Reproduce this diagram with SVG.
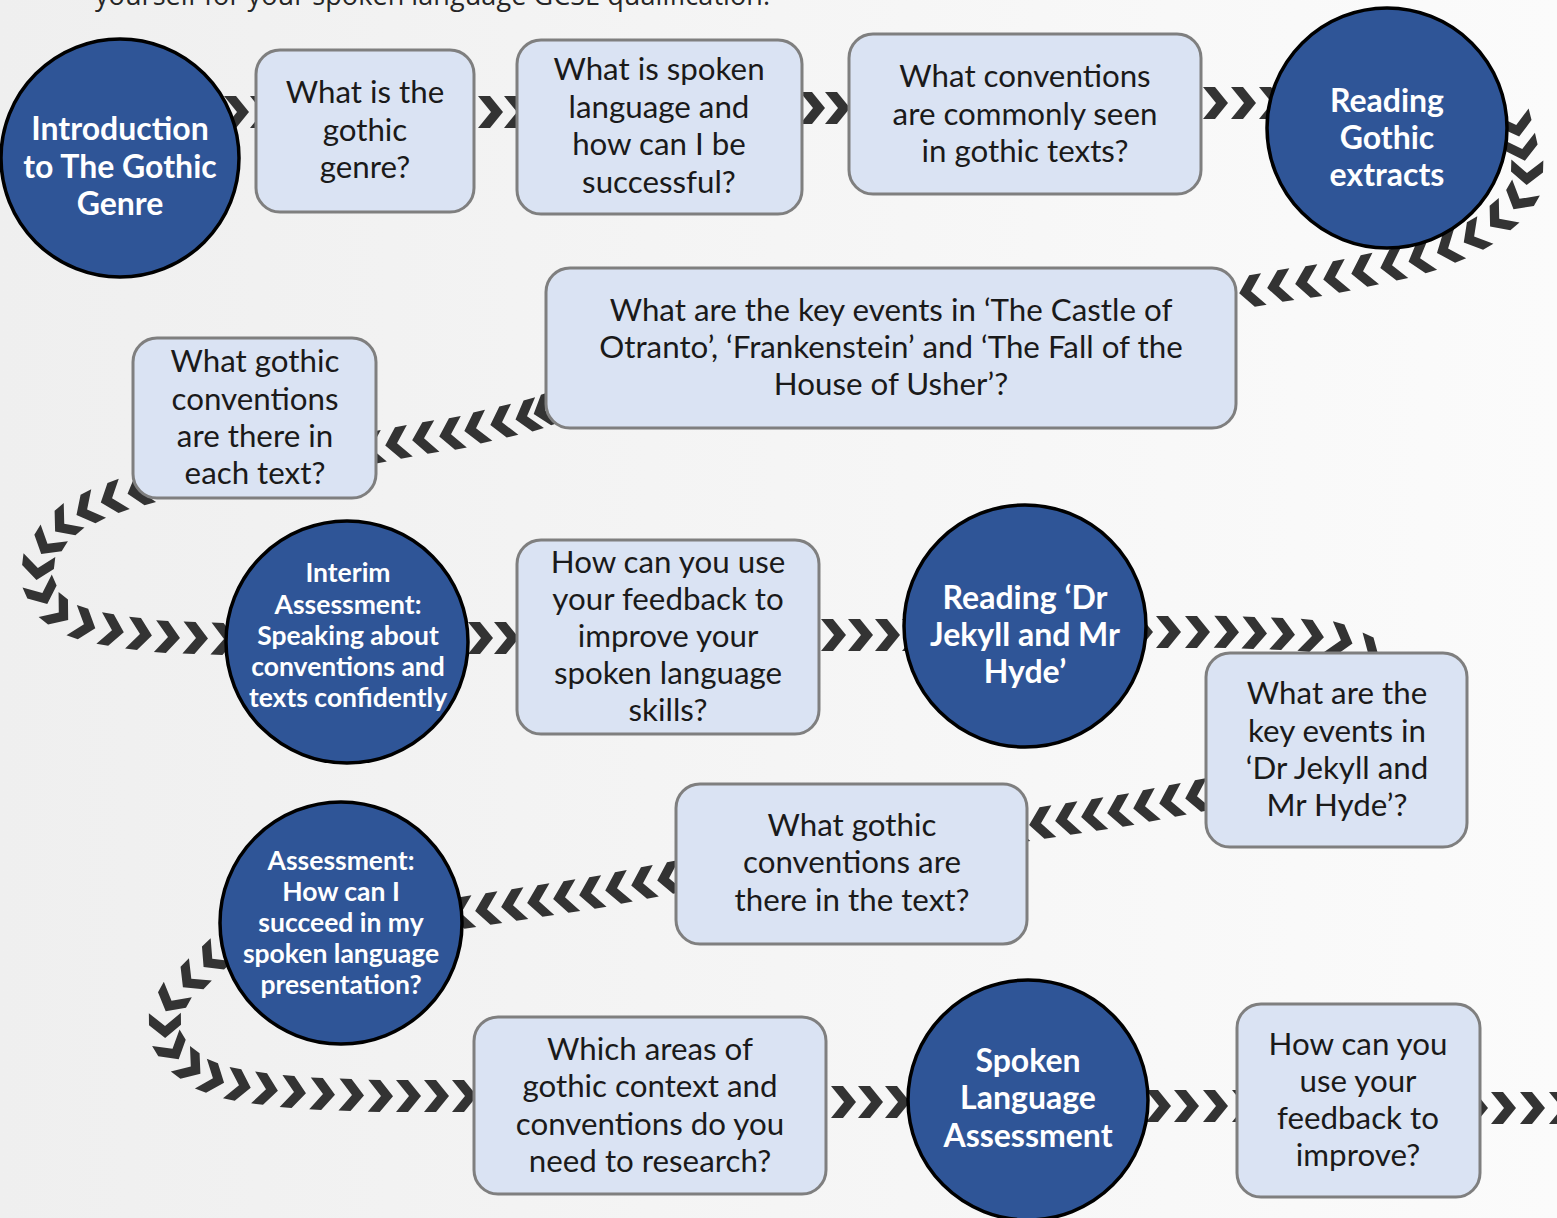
<svg xmlns="http://www.w3.org/2000/svg" width="1557" height="1218" viewBox="0 0 1557 1218">
<defs>
<linearGradient id="bg" x1="0" y1="0" x2="1" y2="0">
<stop offset="0" stop-color="#efefef"/>
<stop offset="1" stop-color="#fbfbfb"/>
</linearGradient>
<marker id="chev" markerUnits="userSpaceOnUse" markerWidth="28" markerHeight="34" viewBox="-14 -17 28 34" refX="0" refY="0" orient="auto" overflow="visible">
<path d="M-12,-16 L0,-16 L13,0 L0,16 L-12,16 L1,0 Z" fill="#333333"/>
</marker>
<style>
.conn{fill:none;stroke:none;marker-start:url(#chev);marker-mid:url(#chev);marker-end:url(#chev);}
.box{fill:#dae3f3;stroke:#7f7f7f;stroke-width:3;}
.circ{fill:#2f5597;stroke:#000;stroke-width:3.5;}
.bt{font-family:Lato,"Open Sans",sans-serif;font-size:31.3px;fill:#1a1a1a;text-anchor:middle;}
.ct{font-family:Lato,"Open Sans",sans-serif;font-weight:bold;font-size:32px;fill:#fff;text-anchor:middle;}
.cs{font-family:Lato,"Open Sans",sans-serif;font-weight:bold;font-size:26.5px;fill:#fff;text-anchor:middle;}
</style>
</defs>
<rect x="0" y="0" width="1557" height="1218" fill="url(#bg)"/>
<text x="95" y="5" font-family="'Open Sans',sans-serif" font-size="27" fill="#262626" textLength="675" lengthAdjust="spacing">yourself for your spoken language GCSE qualification.</text>

<g id="connectors">
<path class="conn" d="M236,112 L262,112"/>
<path class="conn" d="M490,112 L516,112"/>
<path class="conn" d="M812,108 L837,108 L862,108"/>
<path class="conn" d="M1215,103 L1243,103 L1271,103"/>
<path class="conn" d="M1516,124 L1522,148 L1527,172 L1520,198 L1500,218 L1475,236 L1449,248 L1421,258 L1393,265 L1364,271 L1336,277 L1308,282 L1280,286 L1252,291"/>
<path class="conn" d="M546,410 L528,416 L503,422 L477,428 L452,434 L425,438 L398,443 L372,448"/>
<path class="conn" d="M140,490 L113,498 L88,509 L65,523 L48,543 L38,567 L42,592 L58,612 L83,624 L111,630 L139,634 L167,637 L195,638 L223,639"/>
<path class="conn" d="M480,638 L506,638 L532,638"/>
<path class="conn" d="M833,635 L860,635 L887,635 L914,635"/>
<path class="conn" d="M1140,632 L1168,632 L1197,632 L1226,632 L1254,633 L1282,634 L1311,636 L1340,640 L1367,652"/>
<path class="conn" d="M1198,796 L1172,801 L1146,806 L1120,811 L1094,815 L1068,819 L1042,823 L1016,827"/>
<path class="conn" d="M670,878 L644,883 L618,888 L592,893 L566,897 L540,901 L514,905 L488,909 L462,913"/>
<path class="conn" d="M213,958 L192,978 L172,1000 L165,1025 L172,1048 L190,1066 L212,1078 L238,1085 L265,1089 L293,1092 L322,1094 L351,1095 L380,1096 L408,1096 L436,1096 L464,1096"/>
<path class="conn" d="M843,1102 L870,1102 L897,1102 L924,1102"/>
<path class="conn" d="M1158,1106 L1186,1106 L1215,1106 L1244,1106"/>
<path class="conn" d="M1475,1108 L1503,1108 L1532,1108 L1561,1108"/>
</g>

<g id="n1"><circle class="circ" cx="120" cy="158" r="119"/>
<text class="ct"><tspan x="120" y="140">Introduction</tspan><tspan x="120" y="178">to The Gothic</tspan><tspan x="120" y="215">Genre</tspan></text></g>

<g id="n2"><rect class="box" x="256" y="50" width="218" height="162" rx="24"/>
<text class="bt"><tspan x="365" y="103">What is the</tspan><tspan x="365" y="141">gothic</tspan><tspan x="365" y="178">genre?</tspan></text></g>

<g id="n3"><rect class="box" x="517" y="40" width="285" height="174" rx="24"/>
<text class="bt"><tspan x="659" y="80">What is spoken</tspan><tspan x="659" y="118">language and</tspan><tspan x="659" y="155">how can I be</tspan><tspan x="659" y="193">successful?</tspan></text></g>

<g id="n4"><rect class="box" x="849" y="34" width="352" height="160" rx="24"/>
<text class="bt"><tspan x="1025" y="87">What conventions</tspan><tspan x="1025" y="125">are commonly seen</tspan><tspan x="1025" y="162">in gothic texts?</tspan></text></g>

<g id="n5"><circle class="circ" cx="1387" cy="128" r="120"/>
<text class="ct"><tspan x="1387" y="112">Reading</tspan><tspan x="1387" y="149">Gothic</tspan><tspan x="1387" y="186">extracts</tspan></text></g>

<g id="n6"><rect class="box" x="546" y="268" width="690" height="160" rx="24"/>
<text class="bt"><tspan x="891" y="321">What are the key events in ‘The Castle of</tspan><tspan x="891" y="358">Otranto’, ‘Frankenstein’ and ‘The Fall of the</tspan><tspan x="891" y="395">House of Usher’?</tspan></text></g>

<g id="n7"><rect class="box" x="133" y="338" width="243" height="160" rx="24"/>
<text class="bt"><tspan x="255" y="372">What gothic</tspan><tspan x="255" y="410">conventions</tspan><tspan x="255" y="447">are there in</tspan><tspan x="255" y="484">each text?</tspan></text></g>

<g id="n8"><circle class="circ" cx="347" cy="642" r="121"/>
<text class="cs"><tspan x="348" y="582">Interim</tspan><tspan x="348" y="614">Assessment:</tspan><tspan x="348" y="645">Speaking about</tspan><tspan x="348" y="676">conventions and</tspan><tspan x="348" y="707">texts confidently</tspan></text></g>

<g id="n9"><rect class="box" x="517" y="540" width="302" height="194" rx="24"/>
<text class="bt"><tspan x="668" y="573">How can you use</tspan><tspan x="668" y="610">your feedback to</tspan><tspan x="668" y="647">improve your</tspan><tspan x="668" y="684">spoken language</tspan><tspan x="668" y="721">skills?</tspan></text></g>

<g id="n10"><circle class="circ" cx="1025" cy="626" r="121"/>
<text class="ct"><tspan x="1025" y="609">Reading ‘Dr</tspan><tspan x="1025" y="646">Jekyll and Mr</tspan><tspan x="1025" y="683">Hyde’</tspan></text></g>

<g id="n11"><rect class="box" x="1206" y="653" width="261" height="194" rx="24"/>
<text class="bt"><tspan x="1337" y="704">What are the</tspan><tspan x="1337" y="742">key events in</tspan><tspan x="1337" y="779">‘Dr Jekyll and</tspan><tspan x="1337" y="816">Mr Hyde’?</tspan></text></g>

<g id="n12"><rect class="box" x="676" y="784" width="351" height="160" rx="24"/>
<text class="bt"><tspan x="852" y="836">What gothic</tspan><tspan x="852" y="873">conventions are</tspan><tspan x="852" y="911">there in the text?</tspan></text></g>

<g id="n13"><circle class="circ" cx="341" cy="923" r="121"/>
<text class="cs"><tspan x="341" y="870">Assessment:</tspan><tspan x="341" y="901">How can I</tspan><tspan x="341" y="932">succeed in my</tspan><tspan x="341" y="963">spoken language</tspan><tspan x="341" y="994">presentation?</tspan></text></g>

<g id="n14"><rect class="box" x="474" y="1017" width="352" height="177" rx="24"/>
<text class="bt"><tspan x="650" y="1060">Which areas of</tspan><tspan x="650" y="1097">gothic context and</tspan><tspan x="650" y="1135">conventions do you</tspan><tspan x="650" y="1172">need to research?</tspan></text></g>

<g id="n15"><circle class="circ" cx="1028" cy="1100" r="120"/>
<text class="ct"><tspan x="1028" y="1072">Spoken</tspan><tspan x="1028" y="1109">Language</tspan><tspan x="1028" y="1147">Assessment</tspan></text></g>

<g id="n16"><rect class="box" x="1237" y="1004" width="243" height="193" rx="24"/>
<text class="bt"><tspan x="1358" y="1055">How can you</tspan><tspan x="1358" y="1092">use your</tspan><tspan x="1358" y="1129">feedback to</tspan><tspan x="1358" y="1166">improve?</tspan></text></g>
</svg>
